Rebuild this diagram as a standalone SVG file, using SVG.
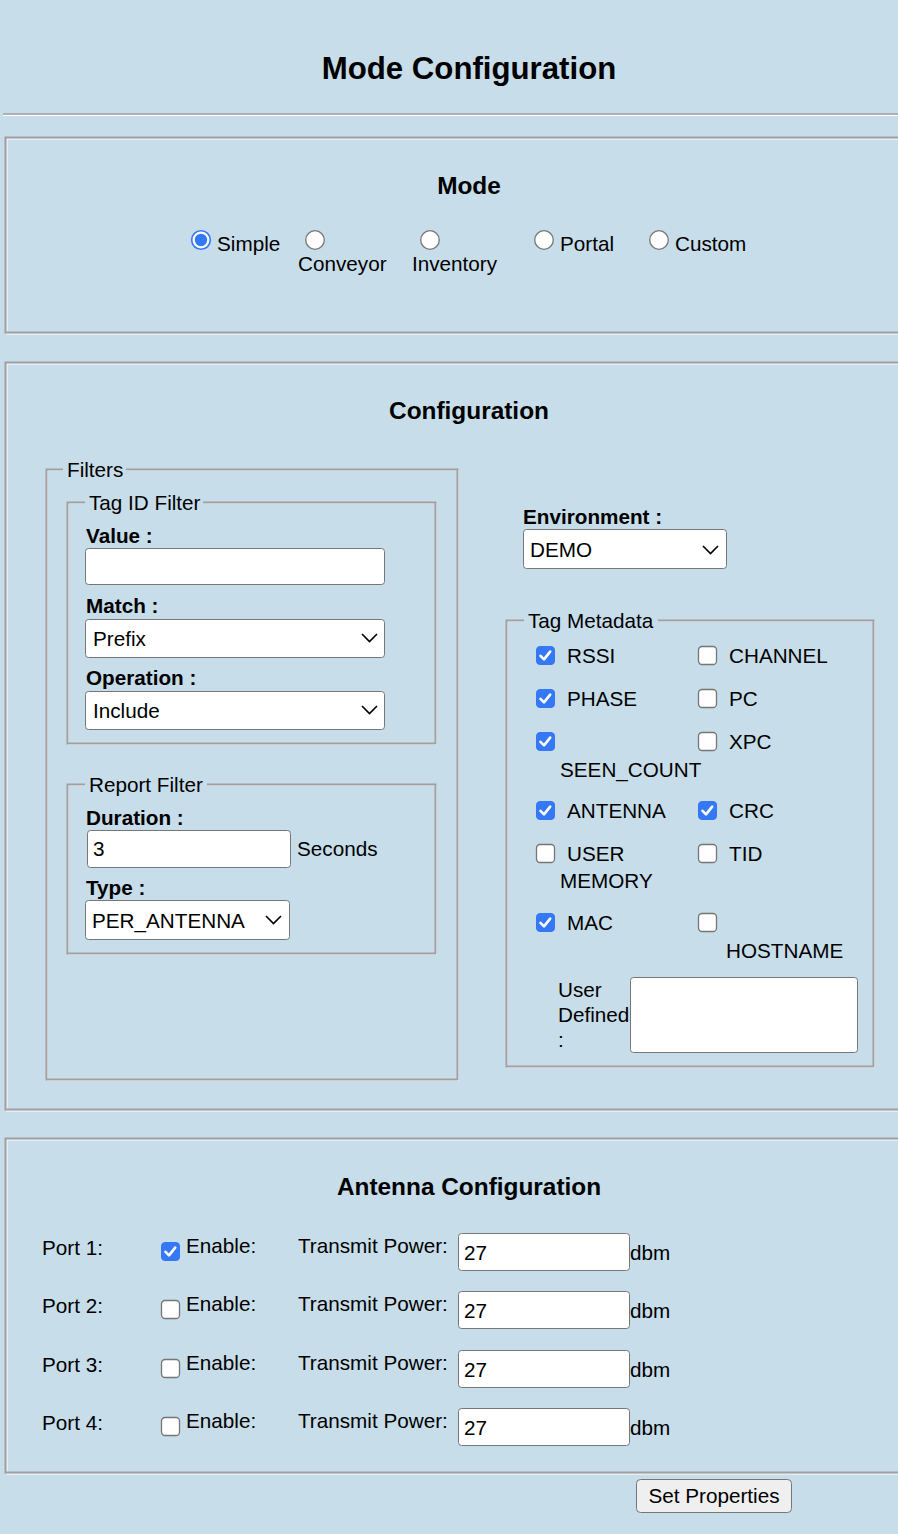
<svg xmlns="http://www.w3.org/2000/svg" width="898" height="1534" viewBox="0 0 898 1534">
<style>
text{font-family:"Liberation Sans",Arial,sans-serif;font-size:20.7px;fill:#000}
.b{font-weight:bold}
.h1{font-size:31.2px;font-weight:bold}
.h2{font-size:24.4px;font-weight:bold}
.gd{fill:none;stroke:#a0a0a0;stroke-width:2}
.gl{fill:none;stroke:#ffffff;stroke-width:1}
.inp{fill:#fff;stroke:#767676;stroke-width:1}
.cb{fill:#fff;stroke:#767676;stroke-width:1.3}
.cbc{fill:#3478f6;stroke:#3478f6;stroke-width:1}
.ck{fill:none;stroke:#fff;stroke-width:2.6;stroke-linecap:round;stroke-linejoin:round}
.chev{fill:none;stroke:#000;stroke-width:1.6}
.rad{fill:#fff;stroke:#767676;stroke-width:1.3}
.mask{fill:#c7dde9}
</style>
<defs>
<g id="cbOff"><rect x="0.5" y="0.5" width="18" height="18" rx="3.5" class="cb"/></g>
<g id="cbOn"><rect x="0.5" y="0.5" width="18" height="18" rx="3.5" class="cbc"/><path d="M4.5 9.8 L8 13.4 L14.2 5.6" class="ck"/></g>
<path id="chevron" d="M0 0 L7.5 7.5 L15 0" class="chev"/>
</defs>
<rect width="898" height="1534" fill="#c7dde9"/>

<g id="title">
<text x="469" y="79" text-anchor="middle" class="h1">Mode Configuration</text>
<line x1="3" y1="114" x2="898" y2="114" stroke="#a0a0a0" stroke-width="1.5"/>
<line x1="3" y1="115.5" x2="898" y2="115.5" stroke="#fff" stroke-width="1"/>
</g>

<g id="mode-box">
<rect x="7" y="139" width="900" height="195" class="gl"/>
<rect x="5.5" y="137.5" width="900" height="195" class="gd"/>
<text x="469" y="194" text-anchor="middle" class="h2">Mode</text>
<g id="radio-simple">
<circle cx="201" cy="240" r="9.3" fill="#fff" stroke="#3478f6" stroke-width="1.6"/>
<circle cx="201" cy="240" r="6.2" fill="#3478f6"/>
<text x="217" y="251">Simple</text>
</g>
<g id="radio-conveyor">
<circle cx="315" cy="240" r="9.3" class="rad"/>
<text x="298" y="271">Conveyor</text>
</g>
<g id="radio-inventory">
<circle cx="430" cy="240" r="9.3" class="rad"/>
<text x="412" y="271">Inventory</text>
</g>
<g id="radio-portal">
<circle cx="544" cy="240" r="9.3" class="rad"/>
<text x="560" y="251">Portal</text>
</g>
<g id="radio-custom">
<circle cx="659" cy="240" r="9.3" class="rad"/>
<text x="675" y="251">Custom</text>
</g>
</g>

<g id="configuration-box">
<rect x="7" y="364" width="900" height="747" class="gl"/>
<rect x="5.5" y="362.5" width="900" height="747" class="gd"/>
<text x="469" y="419" text-anchor="middle" class="h2">Configuration</text>
</g>

<g id="filters">
<rect x="47.5" y="470.5" width="411" height="610" class="gl"/>
<rect x="46.5" y="469.5" width="411" height="610" class="gd"/>
<rect x="63" y="462" width="63" height="14" class="mask"/>
<text x="67" y="477">Filters</text>
</g>

<g id="tag-id-filter">
<rect x="68.5" y="503.5" width="368" height="241" class="gl"/>
<rect x="67.5" y="502.5" width="368" height="241" class="gd"/>
<rect x="85" y="495" width="118" height="14" class="mask"/>
<text x="89" y="510">Tag ID Filter</text>
<text x="86" y="543" class="b">Value :</text>
<rect x="85.5" y="548.5" width="299" height="36" rx="3" class="inp"/>
<text x="86" y="613" class="b">Match :</text>
<rect x="85.5" y="619.5" width="299" height="38" rx="3" class="inp"/>
<text x="93" y="646">Prefix</text>
<use href="#chevron" x="362" y="634"/>
<text x="86" y="685" class="b">Operation :</text>
<rect x="85.5" y="691.5" width="299" height="38" rx="3" class="inp"/>
<text x="93" y="718">Include</text>
<use href="#chevron" x="362" y="706"/>
</g>

<g id="report-filter">
<rect x="68.5" y="785.5" width="368" height="169" class="gl"/>
<rect x="67.5" y="784.5" width="368" height="169" class="gd"/>
<rect x="85" y="777" width="122" height="14" class="mask"/>
<text x="89" y="792">Report Filter</text>
<text x="86" y="825" class="b">Duration :</text>
<rect x="87.5" y="830.5" width="203" height="37" rx="3" class="inp"/>
<text x="93" y="856">3</text>
<text x="297" y="856">Seconds</text>
<text x="86" y="895" class="b">Type :</text>
<rect x="85.5" y="900.5" width="204" height="39" rx="3" class="inp"/>
<text x="92" y="928">PER_ANTENNA</text>
<use href="#chevron" x="266" y="916"/>
</g>

<g id="environment">
<text x="523" y="524" class="b">Environment :</text>
<rect x="523.5" y="529.5" width="203" height="39" rx="3" class="inp"/>
<text x="530" y="557">DEMO</text>
<use href="#chevron" x="703" y="546"/>
</g>

<g id="tag-metadata">
<rect x="507.5" y="621.5" width="367" height="446" class="gl"/>
<rect x="506.5" y="620.5" width="367" height="446" class="gd"/>
<rect x="524" y="613" width="134" height="14" class="mask"/>
<text x="528" y="628">Tag Metadata</text>
<use href="#cbOn" x="536" y="646"/>
<text x="567" y="663">RSSI</text>
<use href="#cbOff" x="698" y="646"/>
<text x="729" y="663">CHANNEL</text>
<use href="#cbOn" x="536" y="689"/>
<text x="567" y="706">PHASE</text>
<use href="#cbOff" x="698" y="689"/>
<text x="729" y="706">PC</text>
<use href="#cbOn" x="536" y="732"/>
<text x="560" y="777">SEEN_COUNT</text>
<use href="#cbOff" x="698" y="732"/>
<text x="729" y="749">XPC</text>
<use href="#cbOn" x="536" y="801"/>
<text x="567" y="818">ANTENNA</text>
<use href="#cbOn" x="698" y="801"/>
<text x="729" y="818">CRC</text>
<use href="#cbOff" x="536" y="844"/>
<text x="567" y="861">USER</text>
<text x="560" y="888">MEMORY</text>
<use href="#cbOff" x="698" y="844"/>
<text x="729" y="861">TID</text>
<use href="#cbOn" x="536" y="913"/>
<text x="567" y="930">MAC</text>
<use href="#cbOff" x="698" y="913"/>
<text x="726" y="958">HOSTNAME</text>
<text x="558" y="997">User</text>
<text x="558" y="1022">Defined</text>
<text x="558" y="1047">:</text>
<rect x="630.5" y="977.5" width="227" height="75" rx="3" class="inp"/>
</g>

<g id="antenna-box">
<rect x="7" y="1140" width="900" height="334" class="gl"/>
<rect x="5.5" y="1138.5" width="900" height="334" class="gd"/>
<text x="469" y="1195" text-anchor="middle" class="h2">Antenna Configuration</text>
</g>

<g id="port-1">
<text x="42" y="1255">Port 1:</text>
<use href="#cbOn" x="161" y="1242"/>
<text x="186" y="1253">Enable:</text>
<text x="298" y="1253">Transmit Power:</text>
<rect x="458.5" y="1233.5" width="171" height="37" rx="3" class="inp"/>
<text x="464" y="1260">27</text>
<text x="630" y="1260">dbm</text>
</g>
<g id="port-2">
<text x="42" y="1313">Port 2:</text>
<use href="#cbOff" x="161" y="1300"/>
<text x="186" y="1311">Enable:</text>
<text x="298" y="1311">Transmit Power:</text>
<rect x="458.5" y="1291.5" width="171" height="37" rx="3" class="inp"/>
<text x="464" y="1318">27</text>
<text x="630" y="1318">dbm</text>
</g>
<g id="port-3">
<text x="42" y="1372">Port 3:</text>
<use href="#cbOff" x="161" y="1359"/>
<text x="186" y="1370">Enable:</text>
<text x="298" y="1370">Transmit Power:</text>
<rect x="458.5" y="1350.5" width="171" height="37" rx="3" class="inp"/>
<text x="464" y="1377">27</text>
<text x="630" y="1377">dbm</text>
</g>
<g id="port-4">
<text x="42" y="1430">Port 4:</text>
<use href="#cbOff" x="161" y="1417"/>
<text x="186" y="1428">Enable:</text>
<text x="298" y="1428">Transmit Power:</text>
<rect x="458.5" y="1408.5" width="171" height="37" rx="3" class="inp"/>
<text x="464" y="1435">27</text>
<text x="630" y="1435">dbm</text>
</g>

<g id="set-properties">
<rect x="636.5" y="1479.5" width="155" height="33" rx="4" fill="#efefef" stroke="#767676" stroke-width="1"/>
<text x="714" y="1503" text-anchor="middle">Set Properties</text>
</g>

<g id="connectors"></g>
</svg>
